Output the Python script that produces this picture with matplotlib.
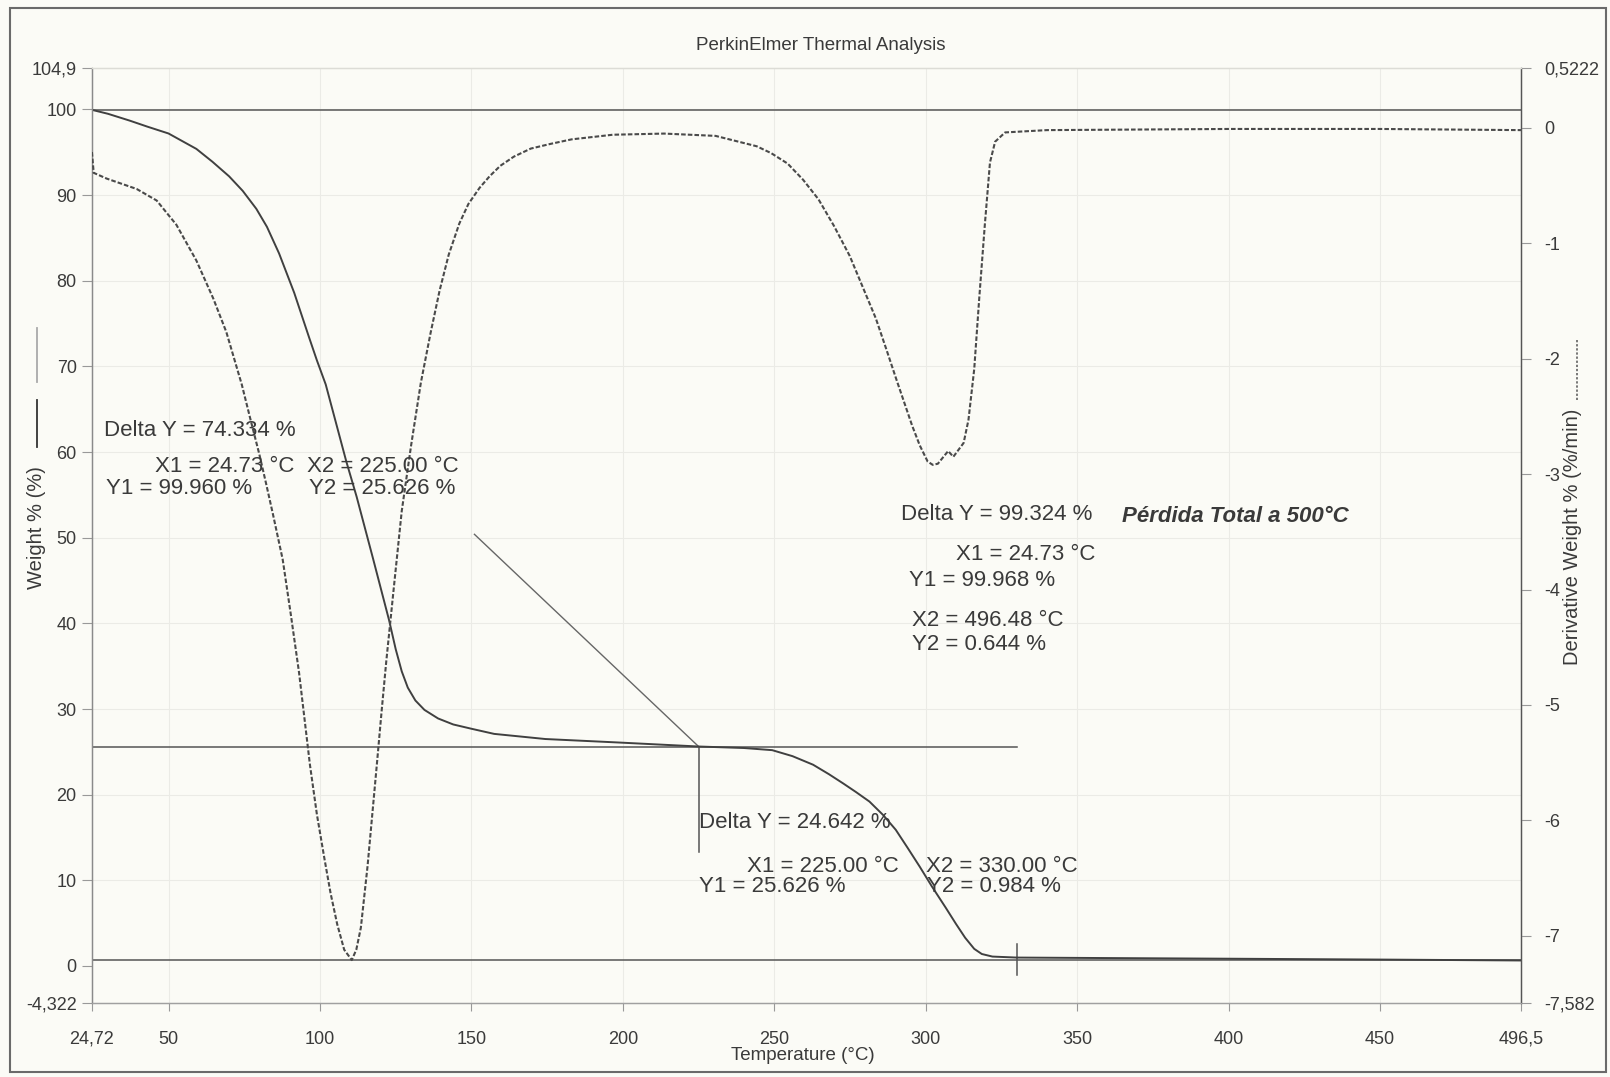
#!/usr/bin/env python3
"""
TGA / DTG curve - PerkinElmer Thermal Analysis
Weight % on the left axis, derivative weight on the right axis.
"""

import matplotlib
matplotlib.use("Agg")
import matplotlib.pyplot as plt
from matplotlib.lines import Line2D
from matplotlib.patches import Rectangle

plt.rcParams['font.family'] = ['Liberation Sans', 'DejaVu Sans']

# Weight curve (solid, left axis)
temp_w = [24.72, 30.0, 37.2, 43.0, 50, 59.2, 64.5, 70, 74.5, 79, 82.5, 86.5, 91.5, 96.4,
          99.0, 101.9, 105.0, 108.7, 112.1, 117.5, 122.8, 125.0, 127.0, 129.0, 131.5,
          134.5, 139.0, 144.0, 150.0, 157.5, 174.4, 198.2, 225.0,
          240.0, 249.3, 256.0, 262.8, 268.0, 272.8, 277.0, 281.4, 286.0, 290.1, 294.0,
          298.0, 302.0, 306.6, 310.0, 313.0, 316.0, 318.5, 322.0, 330.0, 400.0, 450.0, 496.5]
weight = [99.96, 99.5, 98.7, 98.0, 97.2, 95.4, 93.9, 92.2, 90.5, 88.4, 86.3, 83.2, 78.6, 73.4,
          70.7, 67.9, 63.8, 58.9, 54.8, 47.6, 40.4, 37.0, 34.4, 32.5, 31.0,
          29.9, 28.9, 28.2, 27.7, 27.1, 26.5, 26.1, 25.626,
          25.45, 25.2, 24.5, 23.5, 22.4, 21.3, 20.3, 19.2, 17.6, 15.9, 13.8,
          11.6, 9.3, 6.8, 4.9, 3.3, 2.0, 1.4, 1.1, 0.984, 0.85, 0.75, 0.644]

# Derivative curve (dashed, right axis)
temp_d = [24.72, 25.3, 29.6, 39.5, 46.1, 52.6, 59.2, 64.8, 69.1, 74.2, 77.0, 80.0, 82.2,
          84.5, 87.7, 90.4, 93.1, 96.7, 99.0, 101.4, 103.5, 105.7, 108.0, 110.5, 112.0,
          113.5, 115.7, 117.2, 118.8, 120.3, 121.9, 124.4, 127.0, 130.1, 133.3, 136.5,
          139.5, 142.5, 146.0, 149.0, 152.7, 156.0, 159.5, 164.0, 169.6, 176.0, 183.1,
          196.7, 213.6, 230.6, 244.2, 249.0, 254.4, 259.5, 264.6, 269.7, 274.9, 279.2,
          283.5, 287.0, 290.3, 295.5, 298.0, 300.6, 302.3, 304.0, 307.4, 309.1, 312.5,
          314.1, 316.0, 317.7, 319.5, 321.2, 322.9, 326.2, 340.0, 400.0, 450.0, 496.5]
deriv = [-0.21, -0.39, -0.44, -0.53, -0.63, -0.84, -1.15, -1.48, -1.77, -2.225, -2.52, -2.83, -3.08,
         -3.35, -3.74, -4.22, -4.72, -5.52, -5.95, -6.32, -6.63, -6.90, -7.12, -7.21, -7.12,
         -6.93, -6.40, -5.97, -5.51, -5.07, -4.62, -3.98, -3.32, -2.75, -2.21, -1.78,
         -1.41, -1.10, -0.83, -0.66, -0.52, -0.42, -0.33, -0.25, -0.18, -0.14, -0.10,
         -0.06, -0.05, -0.07, -0.16, -0.22, -0.31, -0.45, -0.62, -0.85, -1.11, -1.38,
         -1.65, -1.92, -2.18, -2.58, -2.75, -2.89, -2.92, -2.91, -2.80, -2.85, -2.73,
         -2.53, -2.09, -1.46, -0.84, -0.30, -0.12, -0.04, -0.02, -0.01, -0.01, -0.02]

# Step analysis: level lines, pointer and markers (temperature, weight)
level_y = [99.96, 25.626, 0.644]
level_x_end = [496.5, 330.0, 496.5]
pointer_x = [151.0, 225.0]
pointer_y = [50.4, 25.626]
marker_x = [225.0, 330.0]
marker_y_top = [25.626, 2.6]
marker_y_bot = [13.3, -1.0]

# Axis limits and tick labels
x_lim = (24.72, 496.5)
y_left_lim = (-4.322, 104.9)
y_right_lim = (-7.582, 0.5222)
x_ticks = [24.72, 50, 100, 150, 200, 250, 300, 350, 400, 450, 496.5]
x_tick_labels = ['24,72', '50', '100', '150', '200', '250', '300', '350', '400', '450', '496,5']
yl_ticks = [-4.322, 0, 10, 20, 30, 40, 50, 60, 70, 80, 90, 100, 104.9]
yl_tick_labels = ['-4,322', '0', '10', '20', '30', '40', '50', '60', '70', '80', '90', '100', '104,9']
yr_ticks = [-7.582, -7, -6, -5, -4, -3, -2, -1, 0, 0.5222]
yr_tick_labels = ['-7,582', '-7', '-6', '-5', '-4', '-3', '-2', '-1', '0', '0,5222']

# Step analysis result texts: (text, x px, y px, bold italic)
annotations = [
    ("Delta Y = 74.334 %", 104, 430, False),
    ("X1 = 24.73 °C", 155, 466, False),
    ("X2 = 225.00 °C", 307, 466, False),
    ("Y1 = 99.960 %", 106, 489, False),
    ("Y2 = 25.626 %", 309, 489, False),
    ("Delta Y = 99.324 %", 901, 514, False),
    ("Pérdida Total a 500°C", 1122, 517, True),
    ("X1 = 24.73 °C", 956, 554, False),
    ("Y1 = 99.968 %", 909, 580, False),
    ("X2 = 496.48 °C", 912, 621, False),
    ("Y2 = 0.644 %", 912, 645, False),
    ("Delta Y = 24.642 %", 699, 823, False),
    ("X1 = 225.00 °C", 747, 866, False),
    ("X2 = 330.00 °C", 926, 866, False),
    ("Y1 = 25.626 %", 699, 887, False),
    ("Y2 = 0.984 %", 927, 887, False),
]

W, H = 1610, 1077
PAPER = '#fbfbf6'
INK = '#3a3a3a'

fig = plt.figure(figsize=(W / 100, H / 100), dpi=100, facecolor=PAPER)
ax = fig.add_axes([0.0571, 0.0687, 0.8876, 0.8686])
ax.set_facecolor(PAPER)
ax2 = ax.twinx()

# faint grid
for xv in x_ticks[1:-1]:
    ax.axvline(xv, color='#ebebe6', lw=0.8, zorder=0)
for yv in yl_ticks[2:-1]:
    ax.axhline(yv, color='#ebebe6', lw=0.8, zorder=0)

# curves
ax.plot(temp_w, weight, color='#404040', lw=1.4, zorder=3)
ax2.plot(temp_d, deriv, color='#4a4a4a', lw=1.5, linestyle=(0, (2.2, 1.0)), zorder=3)

# step analysis lines
for yv, xe in zip(level_y, level_x_end):
    ax.plot([x_lim[0], xe], [yv, yv], color='#555555', lw=1.1, zorder=2)
ax.plot(pointer_x, pointer_y, color='#666666', lw=1.0, zorder=2)
for xv, yt, yb in zip(marker_x, marker_y_top, marker_y_bot):
    ax.plot([xv, xv], [yt, yb], color='#555555', lw=1.1, zorder=2)

ax.set_xlim(*x_lim)
ax.set_ylim(*y_left_lim)
ax2.set_ylim(*y_right_lim)

ax.set_xticks(x_ticks)
ax.set_xticklabels(x_tick_labels)
ax.set_yticks(yl_ticks)
ax.set_yticklabels(yl_tick_labels)
ax2.set_yticks(yr_ticks)
ax2.set_yticklabels(yr_tick_labels)

ax.tick_params(axis='x', length=6, width=0.8, color='#999999', labelsize=13,
               labelcolor=INK, pad=14)
ax.tick_params(axis='y', length=7, width=0.8, color='#999999', labelsize=13,
               labelcolor=INK, pad=4)
ax2.tick_params(axis='y', length=7, width=0.8, color='#999999', labelsize=13,
                labelcolor=INK, pad=10)

for a in (ax, ax2):
    a.spines['top'].set_color('#dcdcd6')
    a.spines['left'].set_color('#8a8a8a')
    a.spines['bottom'].set_color('#a0a0a0')
    a.spines['right'].set_color('#555555')
    for s in a.spines.values():
        s.set_linewidth(0.9)

# titles and axis labels
fig.text(821 / W, 1 - 46 / H, 'PerkinElmer Thermal Analysis', ha='center', va='center',
         fontsize=13.5, color=INK)
fig.text(803 / W, 1 - 1055 / H, 'Temperature (°C)', ha='center', va='center',
         fontsize=13.5, color=INK)
fig.text(37 / W, 1 - 528 / H, 'Weight % (%)', ha='center', va='center', rotation=90,
         fontsize=14.5, color=INK)
fig.text(1572 / W, 1 - 537 / H, 'Derivative Weight % (%/min)', ha='center', va='center',
         rotation=90, fontsize=14.5, color=INK)

# legend samples next to the axis labels
fig.add_artist(Line2D([37 / W, 37 / W], [1 - 400 / H, 1 - 447 / H], color='#333333', lw=1.3))
fig.add_artist(Line2D([37 / W, 37 / W], [1 - 328 / H, 1 - 382 / H], color='#aaaaaa', lw=1.3))
fig.add_artist(Line2D([1577 / W, 1577 / W], [1 - 340 / H, 1 - 400 / H], color='#555555',
                      lw=1.1, linestyle=(0, (1.5, 1.2))))

for text, px, py, emph in annotations:
    fig.text(px / W, 1 - py / H, text, ha='left', va='center', fontsize=16, color=INK,
             fontweight='bold' if emph else 'normal',
             fontstyle='italic' if emph else 'normal')

# outer frame of the sheet
fig.add_artist(Rectangle((10 / W, 5 / H), 1596 / W, 1064 / H, transform=fig.transFigure,
                         fill=False, edgecolor='#6a6a6a', lw=1.5))

plt.savefig('out.png', dpi=100, facecolor=PAPER)
plt.close()
